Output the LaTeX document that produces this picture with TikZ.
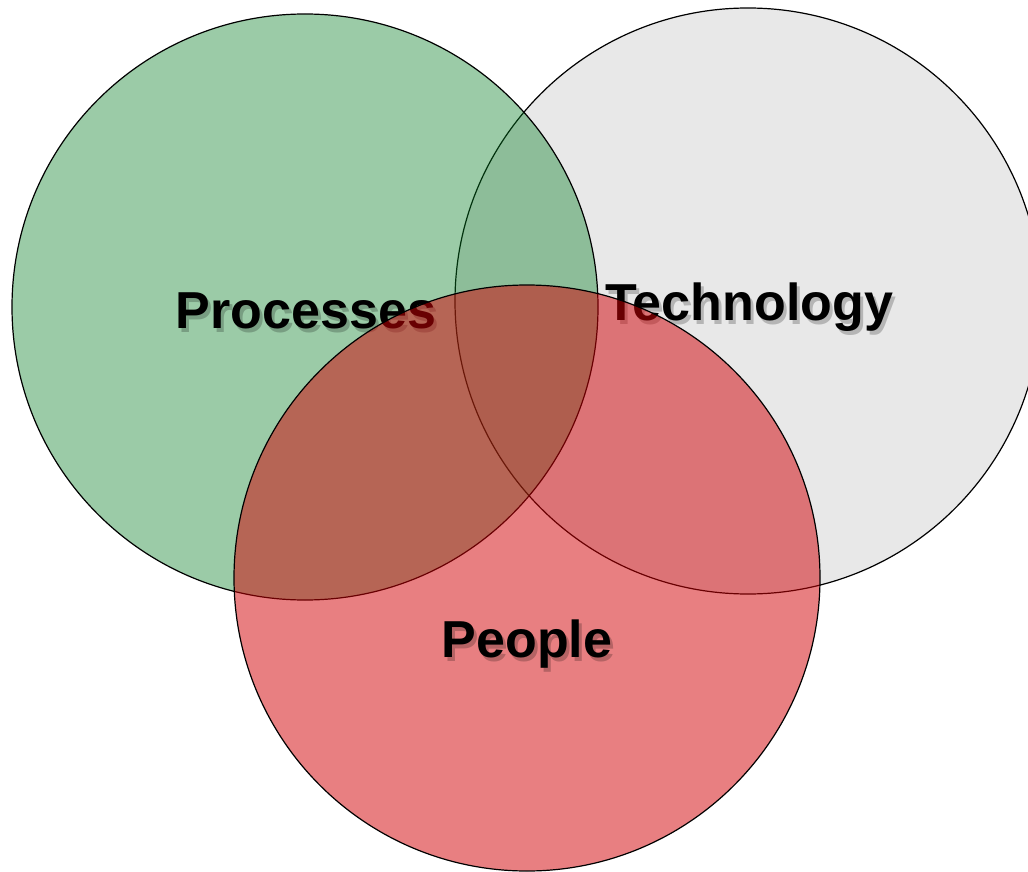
\documentclass[tikz,border=0pt]{standalone}
\usepackage{fontspec}
\setmainfont{Liberation Sans}
\definecolor{techgray}{RGB}{232,232,232}
\definecolor{procgreen}{RGB}{5,125,35}
\definecolor{peoplered}{RGB}{210,0,5}
\tikzset{
  venn/.style={draw=black, line width=1.2pt},
  lbl/.style={anchor=base, inner sep=0pt, font=\fontsize{52}{60}\selectfont\bfseries, text=black},
  shadowlbl/.style={anchor=base, inner sep=0pt, font=\fontsize{52}{60}\selectfont\bfseries, text=black, opacity=0.22}
}
\begin{document}
\begin{tikzpicture}[x=1pt,y=-1pt]
\useasboundingbox (0,0) rectangle (1028,872);
\fill[white] (0,0) rectangle (1028,872);
% Technology circle (opaque gray)
\path[venn, fill=techgray] (748,301) circle[radius=293pt];
\coordinate (techc) at (748,301);
% Processes circle (translucent green)
\path[venn, fill=procgreen, fill opacity=0.4] (305,307) circle[radius=293pt];
\coordinate (procc) at (305,307);
% Labels under the red circle (with soft drop shadow)
\node[shadowlbl] (procs) at (309,332) {Processes};
\node[lbl] (proc) at (306,328) {Processes};
\node[shadowlbl] (techs) at (752,324) {Technology};
\node[lbl] (tech) at (749,320) {Technology};
% People circle (translucent red)
\path[venn, fill=peoplered, fill opacity=0.5] (527,578) circle[radius=293pt];
\coordinate (peoc) at (527,578);
\node[shadowlbl] (peos) at (530,661) {People};
\node[lbl] (peo) at (527,657) {People};
\end{tikzpicture}
\end{document}
